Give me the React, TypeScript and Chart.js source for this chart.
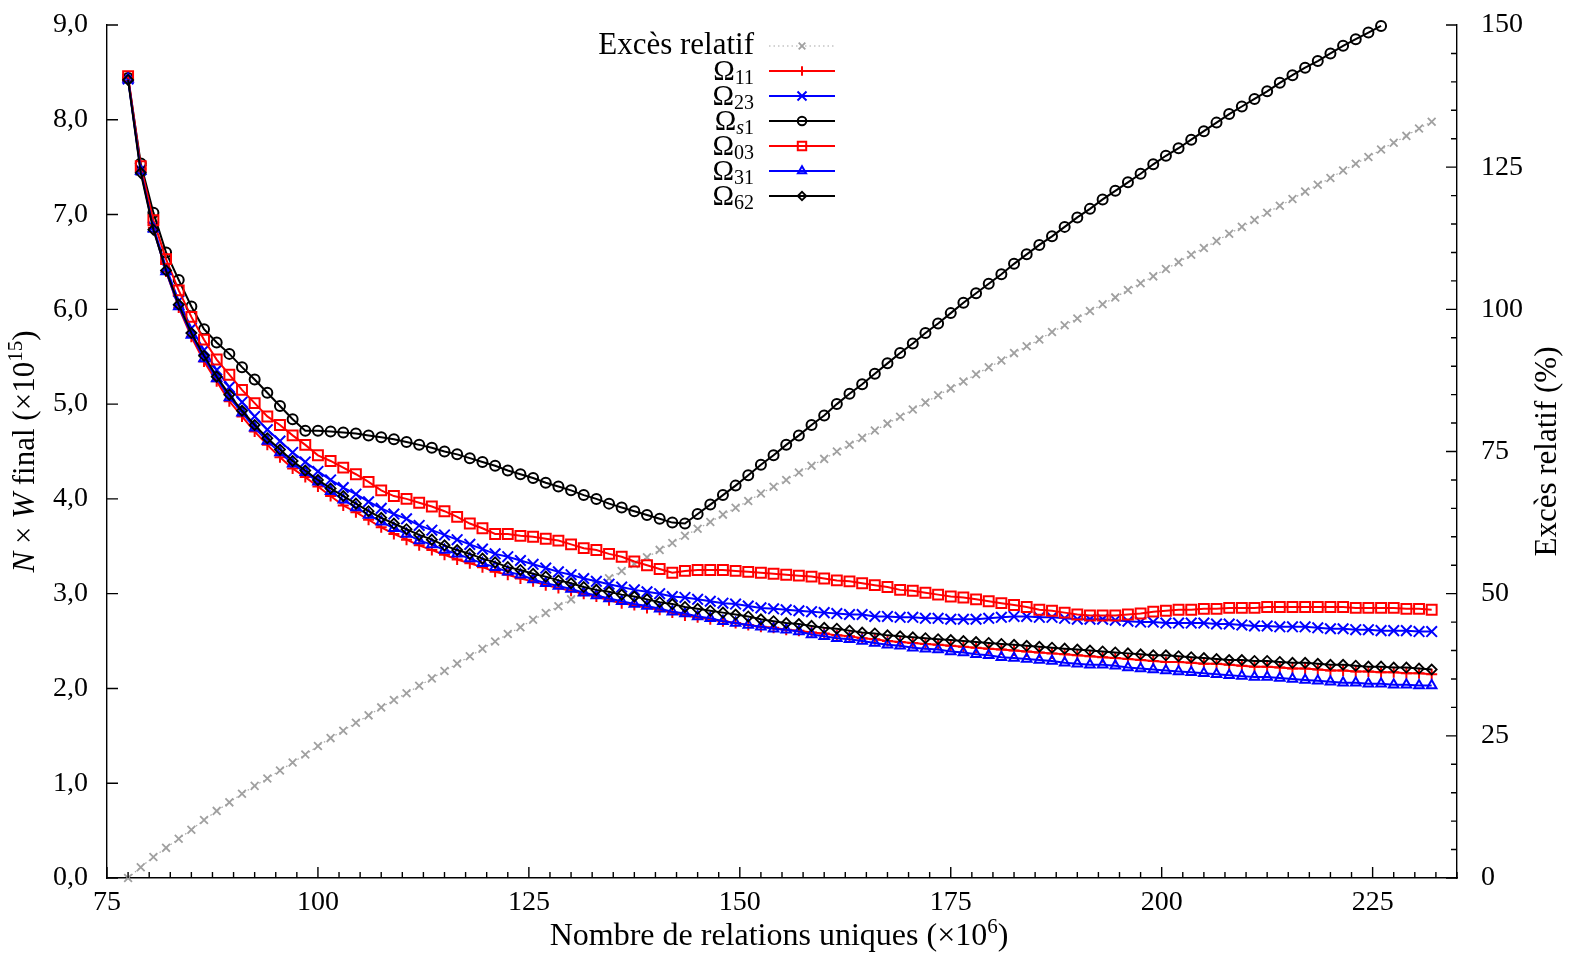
import React, { useEffect, useRef } from 'react';
import { Chart, registerables } from 'chart.js';
import { drawPoint } from 'chart.js/helpers';

Chart.register(...registerables);

const X_VALUES = [
  77.5, 79, 80.5, 82, 83.5, 85, 86.5, 88, 89.5, 91,
  92.5, 94, 95.5, 97, 98.5, 100, 101.5, 103, 104.5, 106,
  107.5, 109, 110.5, 112, 113.5, 115, 116.5, 118, 119.5, 121,
  122.5, 124, 125.5, 127, 128.5, 130, 131.5, 133, 134.5, 136,
  137.5, 139, 140.5, 142, 143.5, 145, 146.5, 148, 149.5, 151,
  152.5, 154, 155.5, 157, 158.5, 160, 161.5, 163, 164.5, 166,
  167.5, 169, 170.5, 172, 173.5, 175, 176.5, 178, 179.5, 181,
  182.5, 184, 185.5, 187, 188.5, 190, 191.5, 193, 194.5, 196,
  197.5, 199, 200.5, 202, 203.5, 205, 206.5, 208, 209.5, 211,
  212.5, 214, 215.5, 217, 218.5, 220, 221.5, 223, 224.5, 226,
  227.5, 229, 230.5, 232,
];

const EXCES_RELATIF = [
  0, 1.9, 3.7, 5.3, 6.9, 8.5, 10.2, 11.8, 13.3, 14.8,
  16.2, 17.5, 18.9, 20.3, 21.7, 23.2, 24.6, 25.9, 27.3, 28.6,
  30.0, 31.3, 32.5, 33.8, 35.1, 36.4, 37.7, 39.0, 40.3, 41.6,
  42.9, 44.1, 45.4, 46.6, 47.8, 49.0, 50.3, 51.5, 52.7, 54.0,
  55.2, 56.4, 57.7, 58.9, 60.2, 61.4, 62.6, 63.9, 65.1, 66.3,
  67.6, 68.8, 70.0, 71.3, 72.5, 73.7, 75.0, 76.2, 77.4, 78.7,
  79.9, 81.1, 82.4, 83.6, 84.9, 86.1, 87.3, 88.6, 89.8, 91.0,
  92.3, 93.5, 94.7, 96.0, 97.2, 98.4, 99.7, 100.9, 102.1, 103.4,
  104.6, 105.8, 107.1, 108.3, 109.6, 110.8, 112.0, 113.3, 114.5, 115.7,
  117.0, 118.2, 119.4, 120.7, 121.9, 123.1, 124.4, 125.6, 126.8, 128.1,
  129.3, 130.5, 131.8, 133.0,
];

const OMEGA_11 = [
  8.44, 7.48, 6.86, 6.40, 6.02, 5.71, 5.45, 5.24, 5.03, 4.87,
  4.71, 4.57, 4.44, 4.32, 4.23, 4.13, 4.03, 3.93, 3.86, 3.78,
  3.70, 3.63, 3.57, 3.51, 3.46, 3.41, 3.36, 3.32, 3.28, 3.23,
  3.20, 3.16, 3.13, 3.09, 3.06, 3.03, 3.00, 2.97, 2.93, 2.90,
  2.88, 2.85, 2.83, 2.80, 2.77, 2.75, 2.73, 2.71, 2.69, 2.67,
  2.65, 2.64, 2.62, 2.61, 2.59, 2.58, 2.56, 2.55, 2.53, 2.52,
  2.50, 2.49, 2.48, 2.47, 2.46, 2.45, 2.44, 2.43, 2.42, 2.41,
  2.40, 2.39, 2.38, 2.37, 2.36, 2.35, 2.34, 2.33, 2.32, 2.31,
  2.30, 2.29, 2.28, 2.28, 2.27, 2.26, 2.26, 2.25, 2.24, 2.23,
  2.23, 2.22, 2.21, 2.21, 2.20, 2.19, 2.19, 2.18, 2.18, 2.17,
  2.17, 2.16, 2.16, 2.15,
];

const OMEGA_23 = [
  8.43, 7.47, 6.87, 6.44, 6.09, 5.80, 5.57, 5.36, 5.18, 5.02,
  4.87, 4.73, 4.61, 4.49, 4.39, 4.29, 4.20, 4.12, 4.05, 3.97,
  3.90, 3.84, 3.79, 3.72, 3.67, 3.62, 3.57, 3.52, 3.47, 3.42,
  3.39, 3.35, 3.31, 3.27, 3.23, 3.20, 3.16, 3.13, 3.10, 3.07,
  3.04, 3.02, 3.00, 2.97, 2.96, 2.94, 2.92, 2.90, 2.89, 2.87,
  2.85, 2.84, 2.83, 2.82, 2.81, 2.80, 2.79, 2.78, 2.78, 2.76,
  2.76, 2.75, 2.75, 2.74, 2.74, 2.73, 2.73, 2.73, 2.74, 2.75,
  2.76, 2.76, 2.75, 2.75, 2.74, 2.73, 2.73, 2.73, 2.72, 2.71,
  2.70, 2.70, 2.69, 2.69, 2.69, 2.69, 2.68, 2.68, 2.67, 2.66,
  2.66, 2.65, 2.65, 2.65, 2.64, 2.63, 2.63, 2.62, 2.62, 2.61,
  2.61, 2.61, 2.60, 2.60,
];

const OMEGA_S1 = [
  8.44, 7.54, 7.02, 6.60, 6.31, 6.03, 5.79, 5.65, 5.53, 5.39,
  5.26, 5.12, 4.98, 4.84, 4.72, 4.72, 4.71, 4.70, 4.69, 4.67,
  4.65, 4.63, 4.60, 4.57, 4.54, 4.50, 4.47, 4.43, 4.39, 4.35,
  4.30, 4.26, 4.22, 4.17, 4.13, 4.09, 4.04, 4.00, 3.95, 3.91,
  3.87, 3.83, 3.79, 3.75, 3.74, 3.84, 3.94, 4.04, 4.14, 4.25,
  4.36, 4.46, 4.57, 4.67, 4.78, 4.88, 5.00, 5.11, 5.21, 5.32,
  5.43, 5.54, 5.64, 5.75, 5.85, 5.96, 6.07, 6.17, 6.27, 6.37,
  6.48, 6.58, 6.68, 6.77, 6.87, 6.97, 7.06, 7.16, 7.25, 7.34,
  7.43, 7.53, 7.62, 7.70, 7.79, 7.88, 7.97, 8.06, 8.14, 8.22,
  8.30, 8.39, 8.47, 8.55, 8.62, 8.70, 8.78, 8.85, 8.92, 8.99,
  null, null, null, null,
];

const OMEGA_03 = [
  8.46, 7.51, 6.94, 6.53, 6.20, 5.92, 5.68, 5.47, 5.31, 5.15,
  5.01, 4.87, 4.78, 4.67, 4.57, 4.46, 4.40, 4.33, 4.26, 4.18,
  4.09, 4.03, 4.00, 3.96, 3.92, 3.87, 3.81, 3.74, 3.69, 3.63,
  3.63, 3.61, 3.60, 3.58, 3.56, 3.52, 3.48, 3.46, 3.42, 3.39,
  3.34, 3.30, 3.26, 3.22, 3.24, 3.25, 3.25, 3.25, 3.24, 3.23,
  3.22, 3.21, 3.20, 3.19, 3.18, 3.16, 3.14, 3.13, 3.11, 3.09,
  3.07, 3.04, 3.03, 3.01, 2.99, 2.97, 2.96, 2.94, 2.92, 2.90,
  2.88, 2.86, 2.83, 2.82, 2.80, 2.78, 2.77, 2.77, 2.77, 2.78,
  2.79, 2.81, 2.82, 2.83, 2.83, 2.84, 2.84, 2.85, 2.85, 2.85,
  2.86, 2.86, 2.86, 2.86, 2.86, 2.86, 2.86, 2.85, 2.85, 2.85,
  2.85, 2.84, 2.84, 2.83,
];

const OMEGA_31 = [
  8.43, 7.46, 6.85, 6.40, 6.03, 5.73, 5.48, 5.27, 5.07, 4.91,
  4.75, 4.61, 4.49, 4.37, 4.28, 4.18, 4.08, 3.99, 3.91, 3.83,
  3.76, 3.69, 3.63, 3.56, 3.52, 3.46, 3.42, 3.37, 3.32, 3.28,
  3.23, 3.20, 3.15, 3.11, 3.08, 3.05, 3.01, 2.98, 2.95, 2.92,
  2.89, 2.87, 2.84, 2.81, 2.79, 2.76, 2.74, 2.71, 2.69, 2.67,
  2.65, 2.63, 2.62, 2.60, 2.57, 2.55, 2.53, 2.52, 2.50, 2.48,
  2.46, 2.45, 2.43, 2.42, 2.41, 2.39, 2.38, 2.36, 2.35, 2.33,
  2.32, 2.31, 2.30, 2.29, 2.27, 2.26, 2.25, 2.25, 2.24, 2.22,
  2.21, 2.20, 2.19, 2.18, 2.17, 2.16, 2.15, 2.14, 2.13, 2.12,
  2.12, 2.11, 2.10, 2.09, 2.08, 2.07, 2.06, 2.06, 2.05, 2.05,
  2.04, 2.04, 2.03, 2.03,
];

const OMEGA_62 = [
  8.42, 7.44, 6.84, 6.41, 6.05, 5.75, 5.51, 5.29, 5.10, 4.93,
  4.78, 4.64, 4.52, 4.40, 4.30, 4.20, 4.11, 4.03, 3.95, 3.87,
  3.80, 3.74, 3.68, 3.62, 3.57, 3.51, 3.46, 3.42, 3.37, 3.33,
  3.28, 3.25, 3.21, 3.18, 3.14, 3.11, 3.07, 3.04, 3.02, 2.99,
  2.97, 2.94, 2.91, 2.89, 2.86, 2.84, 2.82, 2.80, 2.78, 2.76,
  2.73, 2.71, 2.69, 2.68, 2.66, 2.64, 2.63, 2.61, 2.59, 2.58,
  2.56, 2.55, 2.54, 2.53, 2.52, 2.51, 2.50, 2.49, 2.48, 2.47,
  2.46, 2.45, 2.44, 2.43, 2.42, 2.41, 2.40, 2.39, 2.38, 2.37,
  2.36, 2.35, 2.35, 2.34, 2.33, 2.32, 2.31, 2.30, 2.30, 2.29,
  2.29, 2.28, 2.27, 2.27, 2.26, 2.25, 2.25, 2.24, 2.23, 2.23,
  2.22, 2.22, 2.21, 2.20,
];

const X_TICKS = [75, 100, 125, 150, 175, 200, 225];
const Y_TICKS = [0, 1, 2, 3, 4, 5, 6, 7, 8, 9];
const Y2_TICKS = [0, 25, 50, 75, 100, 125, 150];

const FONT = '"Liberation Serif", "DejaVu Serif", serif';

type Part = { t: string; italic?: boolean; size?: number; dy?: number };

type SeriesDef = {
  name: string;
  sub: Part[] | null;
  data: (number | null)[];
  axis: 'y' | 'y2';
  color: string;
  pointColor: string;
  style: string;
  radius: number;
  width: number;
  pointWidth: number;
  dash: number[];
};

const SUB = 20;
const SERIES: SeriesDef[] = [
  { name: 'Excès relatif', sub: null, data: EXCES_RELATIF, axis: 'y2', color: '#a8a8a8', pointColor: '#a0a0a0', style: 'crossRot', radius: 5.5, width: 1.2, pointWidth: 1.8, dash: [1.5, 3] },
  { name: 'Ω', sub: [{ t: '11', size: SUB }], data: OMEGA_11, axis: 'y', color: '#ff0000', pointColor: '#ff0000', style: 'cross', radius: 5.5, width: 2, pointWidth: 2, dash: [] },
  { name: 'Ω', sub: [{ t: '23', size: SUB }], data: OMEGA_23, axis: 'y', color: '#0000ff', pointColor: '#0000ff', style: 'crossRot', radius: 7.5, width: 2, pointWidth: 2, dash: [] },
  { name: 'Ω', sub: [{ t: 's', size: SUB, italic: true }, { t: '1', size: SUB }], data: OMEGA_S1, axis: 'y', color: '#000000', pointColor: '#000000', style: 'circle', radius: 5, width: 2, pointWidth: 2, dash: [] },
  { name: 'Ω', sub: [{ t: '03', size: SUB }], data: OMEGA_03, axis: 'y', color: '#ff0000', pointColor: '#ff0000', style: 'rect', radius: 7, width: 2, pointWidth: 2, dash: [] },
  { name: 'Ω', sub: [{ t: '31', size: SUB }], data: OMEGA_31, axis: 'y', color: '#0000ff', pointColor: '#0000ff', style: 'triangle', radius: 5.5, width: 2, pointWidth: 2, dash: [] },
  { name: 'Ω', sub: [{ t: '62', size: SUB }], data: OMEGA_62, axis: 'y', color: '#000000', pointColor: '#000000', style: 'rectRot', radius: 5, width: 2, pointWidth: 1.8, dash: [] },
];

function drawRich(ctx: CanvasRenderingContext2D, parts: Part[], x: number, y: number, align: 'left' | 'center' | 'right', base: number) {
  const fonts = parts.map((p) => `${p.italic ? 'italic ' : ''}${p.size || base}px ${FONT}`);
  const widths = parts.map((p, i) => {
    ctx.font = fonts[i];
    return ctx.measureText(p.t).width;
  });
  const total = widths.reduce((a, b) => a + b, 0);
  let cx = align === 'left' ? x : align === 'center' ? x - total / 2 : x - total;
  ctx.textAlign = 'left';
  ctx.textBaseline = 'alphabetic';
  parts.forEach((p, i) => {
    ctx.font = fonts[i];
    ctx.fillText(p.t, cx, y + (p.dy || 0));
    cx += widths[i];
  });
}

const decorPlugin = {
  id: 'decor',
  afterDraw(chart: any) {
    const ctx: CanvasRenderingContext2D = chart.ctx;
    const { left, right, top, bottom } = chart.chartArea;
    const xs = chart.scales.x;
    const ys = chart.scales.y;
    const y2 = chart.scales.y2;
    ctx.save();
    ctx.strokeStyle = '#000';
    ctx.lineWidth = 1.4;
    ctx.setLineDash([]);
    ctx.beginPath();
    for (let k = 0; k <= 64; k++) {
      const v = 75 + k * 2.5;
      const px = xs.getPixelForValue(v);
      const len = k % 10 === 0 ? 11 : 6;
      ctx.moveTo(px, bottom);
      ctx.lineTo(px, bottom - len);
    }
    Y_TICKS.forEach((v) => {
      const py = ys.getPixelForValue(v);
      ctx.moveTo(left, py);
      ctx.lineTo(left + 11, py);
    });
    for (let k = 0; k <= 30; k++) {
      const v = k * 5;
      const py = y2.getPixelForValue(v);
      const len = k % 5 === 0 ? 11 : 6;
      ctx.moveTo(right, py);
      ctx.lineTo(right - len, py);
    }
    ctx.stroke();

    ctx.fillStyle = '#000';
    // x title
    drawRich(ctx, [
      { t: 'Nombre de relations uniques (×10' },
      { t: '6', size: 21, dy: -12 },
      { t: ')' },
    ], 779, 945, 'center', 32);

    // left y title
    ctx.save();
    ctx.translate(34, (top + bottom) / 2);
    ctx.rotate(-Math.PI / 2);
    drawRich(ctx, [
      { t: 'N', italic: true },
      { t: ' × ' },
      { t: 'W', italic: true },
      { t: ' final (×10' },
      { t: '15', size: 21, dy: -12 },
      { t: ')' },
    ], 0, 0, 'center', 31);
    ctx.restore();

    // right y title
    ctx.save();
    ctx.translate(1556, (top + bottom) / 2);
    ctx.rotate(-Math.PI / 2);
    drawRich(ctx, [{ t: 'Excès relatif (%)' }], 0, 0, 'center', 31);
    ctx.restore();

    // legend
    const textRight = 754;
    const lineL = 769;
    const lineR = 835;
    const mark = 802;
    SERIES.forEach((s, i) => {
      const ry = 46 + i * 25;
      ctx.fillStyle = '#000';
      if (s.sub) {
        drawRich(ctx, [{ t: s.name, dy: 9, size: 29 }, ...s.sub.map((p) => ({ ...p, dy: 13 }))], textRight, ry, 'right', 31);
      } else {
        drawRich(ctx, [{ t: s.name }], textRight, ry + 8, 'right', 31);
      }
      ctx.strokeStyle = s.color;
      ctx.lineWidth = s.width;
      ctx.setLineDash(s.dash);
      ctx.beginPath();
      ctx.moveTo(lineL, ry);
      ctx.lineTo(lineR, ry);
      ctx.stroke();
      ctx.setLineDash([]);
      ctx.strokeStyle = s.pointColor;
      ctx.fillStyle = 'rgba(0,0,0,0)';
      ctx.lineWidth = s.pointWidth;
      drawPoint(ctx, { pointStyle: s.style as any, rotation: 0, radius: s.radius * 0.85, borderWidth: s.pointWidth }, mark, ry);
    });
    ctx.restore();
  },
};

export default function App() {
  const ref = useRef<HTMLCanvasElement | null>(null);
  useEffect(() => {
    document.body.style.margin = '0';
    const canvas = ref.current;
    if (!canvas) return;
    const datasets = SERIES.map((s, i) => ({
      label: s.sub ? s.name + s.sub.map((p) => p.t).join('') : s.name,
      data: X_VALUES.map((x, k) => ({ x, y: s.data[k] })),
      yAxisID: s.axis,
      borderColor: s.color,
      borderWidth: s.width,
      borderDash: s.dash,
      pointStyle: s.style as any,
      pointRadius: s.radius,
      pointBorderColor: s.pointColor,
      pointBorderWidth: s.pointWidth,
      pointBackgroundColor: 'rgba(0,0,0,0)',
      tension: 0,
      fill: false,
      clip: false as any,
      order: 10 - i,
    }));
    const tickFont = { family: FONT, size: 28 };
    const chart = new Chart(canvas, {
      type: 'line',
      data: { datasets },
      plugins: [decorPlugin],
      options: {
        animation: false,
        responsive: false,
        devicePixelRatio: 1,
        layout: { padding: { top: 25, left: 0, right: 0, bottom: 0 } },
        plugins: { legend: { display: false }, tooltip: { enabled: false } },
        scales: {
          x: {
            type: 'linear',
            min: 75,
            max: 235,
            grid: { display: false },
            border: { display: true, color: '#000', width: 1.4 },
            ticks: { font: tickFont, color: '#000', padding: 0, maxRotation: 0, autoSkip: false },
            afterBuildTicks: (s: any) => { s.ticks = X_TICKS.map((v) => ({ value: v })); },
            afterFit: (s: any) => { s.height = 78; s.paddingLeft = 0; s.paddingRight = 0; },
          },
          y: {
            type: 'linear',
            position: 'left',
            min: 0,
            max: 9,
            grid: { display: false },
            border: { display: true, color: '#000', width: 1.4 },
            ticks: {
              font: tickFont,
              color: '#000',
              padding: 11,
              callback: (v: any) => Number(v).toFixed(1).replace('.', ','),
            },
            afterBuildTicks: (s: any) => { s.ticks = Y_TICKS.map((v) => ({ value: v })); },
            afterFit: (s: any) => { s.width = 107; s.paddingTop = 0; s.paddingBottom = 0; },
          },
          y2: {
            type: 'linear',
            position: 'right',
            min: 0,
            max: 150,
            grid: { display: false },
            border: { display: true, color: '#000', width: 1.4 },
            ticks: { font: tickFont, color: '#000', padding: 16 },
            afterBuildTicks: (s: any) => { s.ticks = Y2_TICKS.map((v) => ({ value: v })); },
            afterFit: (s: any) => { s.width = 115; s.paddingTop = 0; s.paddingBottom = 0; },
          },
        },
      },
    });
    return () => chart.destroy();
  }, []);
  return <canvas ref={ref} width={1572} height={956} style={{ display: 'block' }} />;
}
